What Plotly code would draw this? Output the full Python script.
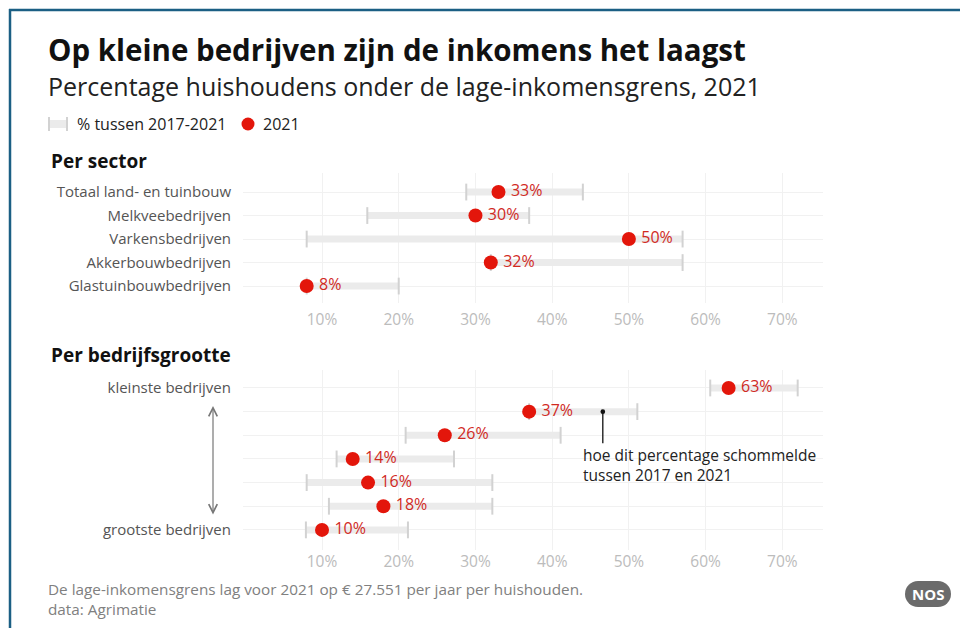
import plotly.graph_objects as go

# Per sector (percentages)
sector_labels = ["Totaal land- en tuinbouw", "Melkveebedrijven", "Varkensbedrijven",
                 "Akkerbouwbedrijven", "Glastuinbouwbedrijven"]
sector_low = [28.8, 15.9, 8.0, 32.0, 8.0]
sector_high = [44.0, 37.0, 57.0, 57.0, 20.0]
sector_2021 = [33, 30, 50, 32, 8]

# Per bedrijfsgrootte (kleinste -> grootste)
size_keys = ["klasse 1", "klasse 2", "klasse 3", "klasse 4", "klasse 5", "klasse 6", "klasse 7"]
size_labels = ["kleinste bedrijven", "", "", "", "", "", "grootste bedrijven"]
size_low = [60.6, 37.0, 20.9, 11.9, 8.0, 10.9, 7.9]
size_high = [72.0, 51.1, 41.1, 27.2, 32.2, 32.2, 21.2]
size_2021 = [63, 37, 26, 14, 16, 18, 10]

pct_ticks = [10, 20, 30, 40, 50, 60, 70]
pct_text = ["10%", "20%", "30%", "40%", "50%", "60%", "70%"]

FONT = "Open Sans, Noto Sans, sans-serif"
RED = "#e3160b"
RED_TXT = "#d12a1f"
BAR = "#ebebeb"
CAP = "#d2d2d2"
GRID = "#f1f1f1"

W, H = 960, 628


def px(x):
    return x / W


def py(y):
    return 1 - y / H


def spans(lo, hi, cats):
    xs, ys = [], []
    for a, b, c in zip(lo, hi, cats):
        xs += [a, b, None]
        ys += [c, c, None]
    return xs, ys


fig = go.Figure()

for lo, hi, vals, cats, xa, ya in [
    (sector_low, sector_high, sector_2021, sector_labels, "x", "y"),
    (size_low, size_high, size_2021, size_keys, "x2", "y2"),
]:
    bx, by = spans(lo, hi, cats)
    fig.add_trace(go.Scatter(x=bx, y=by, mode="lines", line=dict(color=BAR, width=7),
                             xaxis=xa, yaxis=ya, hoverinfo="skip", showlegend=False))
    fig.add_trace(go.Scatter(x=lo + hi, y=cats + cats, mode="markers",
                             marker=dict(symbol="line-ns", size=12, line=dict(color=CAP, width=2)),
                             xaxis=xa, yaxis=ya, hoverinfo="skip", showlegend=False))
    fig.add_trace(go.Scatter(x=vals, y=cats, mode="markers+text",
                             marker=dict(color=RED, size=14),
                             text=[f"\u2009{v}%" for v in vals], textposition="middle right",
                             textfont=dict(color=RED_TXT, size=16, family=FONT),
                             xaxis=xa, yaxis=ya, showlegend=False))

xcommon = dict(range=[-0.3, 75.3], tickvals=pct_ticks, ticktext=pct_text, showgrid=True,
               gridcolor=GRID, gridwidth=1, zeroline=False, showline=False, ticks="",
               tickfont=dict(size=15.5, color="#bcbcbc", family=FONT),
               domain=[px(243), px(823)])
ycommon = dict(type="category", showgrid=True, gridcolor=GRID, gridwidth=1, zeroline=False,
               showline=False, ticks="", ticklabelstandoff=11,
               tickfont=dict(size=15, color="#555555", family=FONT))

fig.update_layout(
    width=W, height=H,
    margin=dict(l=0, r=0, t=0, b=0),
    paper_bgcolor="white", plot_bgcolor="white",
    font=dict(family=FONT),
    xaxis=dict(**xcommon, anchor="y", ticklabelstandoff=5),
    yaxis=dict(**ycommon, domain=[py(303), py(173)], categoryorder="array",
               categoryarray=sector_labels, range=[4.72, -0.81]),
    xaxis2=dict(**xcommon, anchor="y2"),
    yaxis2=dict(**ycommon, domain=[py(550), py(370)], categoryorder="array",
                categoryarray=size_keys, tickvals=size_keys, ticktext=size_labels,
                range=[6.85, -0.76]),
)

ann = []
ann.append(dict(text="<b>Op kleine bedrijven zijn de inkomens het laagst</b>", x=px(46), y=py(50),
                font=dict(size=29.5, color="#111111")))
ann.append(dict(text="Percentage huishoudens onder de lage-inkomensgrens, 2021", x=px(46), y=py(86),
                font=dict(size=25, color="#222222")))
ann.append(dict(text="% tussen 2017-2021", x=px(75), y=py(124), font=dict(size=16, color="#222222")))
ann.append(dict(text="2021", x=px(261), y=py(124), font=dict(size=16, color="#222222")))
ann.append(dict(text="<b>Per sector</b>", x=px(49), y=py(161), font=dict(size=19, color="#111111")))
ann.append(dict(text="<b>Per bedrijfsgrootte</b>", x=px(49), y=py(355), font=dict(size=19, color="#111111")))
ann.append(dict(text="hoe dit percentage schommelde<br>tussen 2017 en 2021", x=px(581), y=py(465),
                align="left", font=dict(size=15.5, color="#222222")))
ann.append(dict(text="De lage-inkomensgrens lag voor 2021 op € 27.551 per jaar per huishouden.<br>data: Agrimatie",
                x=px(46), y=py(599), align="left", font=dict(size=15.3, color="#808080")))
ann.append(dict(text="<b>NOS</b>", x=px(928), y=py(594), xanchor="center",
                font=dict(size=15, color="white")))
for a in ann:
    a.setdefault("xanchor", "left")
    a.update(xref="paper", yref="paper", yanchor="middle", showarrow=False)

# pointer to the range of the second size class
ann.append(dict(x=46.6, y=size_keys[1], xref="x2", yref="y2", text="", ax=0, ay=33,
                showarrow=True, arrowhead=6, arrowsize=0.9, arrowwidth=1.3, arrowcolor="#111111",
                standoff=0))
# double arrow between kleinste and grootste
ann.append(dict(x=px(213), y=py(406), xref="paper", yref="paper", axref="pixel", ayref="pixel",
                ax=0, ay=110, text="", showarrow=True, arrowhead=5, startarrowhead=5,
                arrowside="end+start", arrowsize=1.4, startarrowsize=1.4, arrowwidth=1.2,
                arrowcolor="#777777"))
fig.update_layout(annotations=ann)

shapes = []
# legend icon: range bar with caps
shapes.append(dict(type="rect", x0=px(49), x1=px(67), y0=py(128), y1=py(120),
                   fillcolor=BAR, line=dict(width=0)))
for xx in (49, 67):
    shapes.append(dict(type="line", x0=px(xx), x1=px(xx), y0=py(131), y1=py(117),
                       line=dict(color=CAP, width=2)))
shapes.append(dict(type="circle", x0=px(241.5), x1=px(254.5), y0=py(130.5), y1=py(117.5),
                   fillcolor=RED, line=dict(width=0)))
# NOS badge
shapes.append(dict(type="rect", x0=px(918), x1=px(938), y0=py(607), y1=py(581),
                   fillcolor="#6b6b6b", line=dict(width=0)))
for x0 in (905, 925):
    shapes.append(dict(type="circle", x0=px(x0), x1=px(x0 + 26), y0=py(607), y1=py(581),
                       fillcolor="#6b6b6b", line=dict(width=0)))
# frame
shapes.append(dict(type="line", x0=px(9), x1=1, y0=py(10), y1=py(10), line=dict(color="#1b5f84", width=2.5)))
shapes.append(dict(type="line", x0=px(10), x1=px(10), y0=py(9), y1=0, line=dict(color="#1b5f84", width=2.5)))
for s in shapes:
    s.update(xref="paper", yref="paper", layer="above")
fig.update_layout(shapes=shapes)

# page has a default body margin; drop it so the figure sits at the window origin
fig.write_html("out.html", config={"displayModeBar": False},
               post_script="document.body.style.margin='0';")
